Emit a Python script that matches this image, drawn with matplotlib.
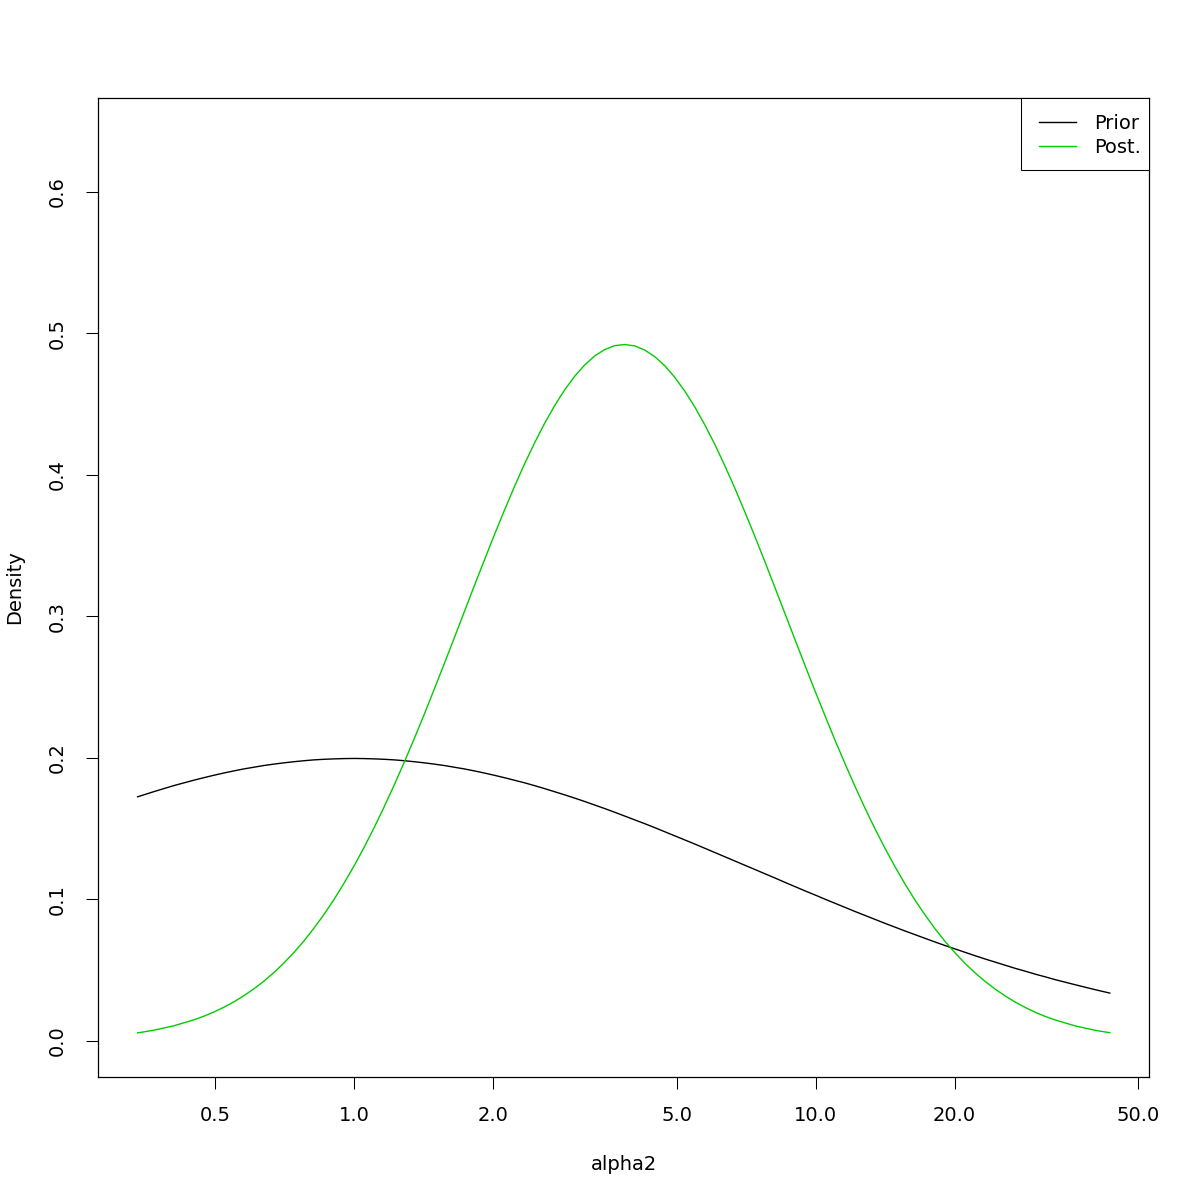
"""
Prior vs posterior density of alpha2 on a log x axis (R base-graphics look).
"""
import matplotlib
matplotlib.use("Agg")
import matplotlib.pyplot as plt
from matplotlib.patches import Rectangle
from matplotlib.ticker import FixedLocator, FixedFormatter, NullLocator

# values
alpha2 = [0.3396, 0.3679, 0.4066, 0.4493, 0.4724, 0.4966, 0.5220, 0.5488,
          0.5769, 0.6065, 0.6376, 0.6703, 0.7047, 0.7408, 0.7788, 0.8187,
          0.8607, 0.9048, 0.9512, 1.0, 1.0513, 1.1052, 1.1618, 1.2214,
          1.2840, 1.3499, 1.4191, 1.4918, 1.5683, 1.6487, 1.7333, 1.8221,
          1.9155, 2.0138, 2.1170, 2.2255, 2.3396, 2.4596, 2.5857, 2.7183,
          2.8577, 3.0042, 3.1582, 3.3201, 3.4903, 3.6693, 3.857, 4.0552,
          4.2631, 4.4817, 4.7115, 4.9530, 5.2070, 5.4739, 5.7546, 6.0496,
          6.3598, 6.6859, 7.0287, 7.3891, 7.7679, 8.1662, 8.5849, 9.0250,
          9.4877, 9.9742, 10.486, 11.023, 11.588, 12.182, 12.807, 13.464,
          14.154, 14.880, 15.643, 16.445, 17.288, 18.174, 19.106, 20.086,
          21.115, 22.198, 23.336, 24.533, 25.790, 27.113, 28.503, 29.964,
          31.500, 33.115, 36.598, 40.447, 43.376]

prior = [0.1724, 0.1760, 0.1803, 0.1841, 0.1859, 0.1876, 0.1892, 0.1907,
         0.1921, 0.1933, 0.1945, 0.1955, 0.1964, 0.1972, 0.1979, 0.1985,
         0.1989, 0.1992, 0.1994, 0.1995, 0.1994, 0.1992, 0.1989, 0.1985,
         0.1979, 0.1972, 0.1964, 0.1955, 0.1945, 0.1933, 0.1921, 0.1907,
         0.1892, 0.1876, 0.1859, 0.1841, 0.1823, 0.1803, 0.1782, 0.1760,
         0.1738, 0.1715, 0.1691, 0.1666, 0.1641, 0.1615, 0.1588, 0.1561,
         0.1534, 0.1506, 0.1477, 0.1448, 0.1419, 0.1390, 0.1360, 0.1330,
         0.1300, 0.1270, 0.1240, 0.1210, 0.1180, 0.1150, 0.1119, 0.1089,
         0.1059, 0.1030, 0.1000, 0.0971, 0.0942, 0.0913, 0.0885, 0.0857,
         0.0829, 0.0802, 0.0775, 0.0749, 0.0723, 0.0697, 0.0672, 0.0648,
         0.0624, 0.0600, 0.0577, 0.0555, 0.0533, 0.0511, 0.0491, 0.0470,
         0.0451, 0.0431, 0.0395, 0.0360, 0.0337]

post = [0.00556, 0.00744, 0.01055, 0.01476, 0.01733, 0.02028, 0.02366, 0.02747,
        0.03183, 0.03668, 0.04213, 0.0482, 0.0550, 0.0624, 0.0706, 0.0796,
        0.0893, 0.0999, 0.1114, 0.1236, 0.1367, 0.1506, 0.1653, 0.1807,
        0.1968, 0.2135, 0.2307, 0.2485, 0.2665, 0.2848, 0.3032, 0.3216,
        0.3397, 0.3576, 0.3749, 0.3916, 0.4075, 0.4224, 0.4362, 0.4487,
        0.4599, 0.4695, 0.4775, 0.4839, 0.4884, 0.4912, 0.4920, 0.4910,
        0.4881, 0.4834, 0.4770, 0.4688, 0.4590, 0.4478, 0.4351, 0.4213,
        0.4062, 0.3903, 0.3735, 0.3562, 0.3383, 0.3201, 0.3017, 0.2833,
        0.2650, 0.2470, 0.2294, 0.2121, 0.1955, 0.1794, 0.1640, 0.1494,
        0.1356, 0.1226, 0.1104, 0.0990, 0.0886, 0.0788, 0.0699, 0.0618,
        0.0544, 0.0477, 0.0417, 0.0363, 0.0315, 0.0272, 0.0234, 0.0200,
        0.0171, 0.0146, 0.0104, 0.00734, 0.00569]

x_ticks = [0.5, 1.0, 2.0, 5.0, 10.0, 20.0, 50.0]
x_tick_labels = ["0.5", "1.0", "2.0", "5.0", "10.0", "20.0", "50.0"]
y_ticks = [0.0, 0.1, 0.2, 0.3, 0.4, 0.5, 0.6]
y_tick_labels = ["0.0", "0.1", "0.2", "0.3", "0.4", "0.5", "0.6"]

plt.rcParams["font.family"] = "DejaVu Sans"

fig = plt.figure(figsize=(12, 12), dpi=100)
ax = fig.add_axes([98 / 1200, 123 / 1200, 1051 / 1200, 979 / 1200])

ax.plot(alpha2, prior, color="black", linewidth=1.0, label="Prior")
ax.plot(alpha2, post, color="#00cd00", linewidth=1.0, label="Post.")

ax.set_xscale("log")
ax.set_xlim(0.2787, 52.75)
ax.set_ylim(-0.0256, 0.6662)

ax.xaxis.set_major_locator(FixedLocator(x_ticks))
ax.xaxis.set_major_formatter(FixedFormatter(x_tick_labels))
ax.xaxis.set_minor_locator(NullLocator())
ax.yaxis.set_major_locator(FixedLocator(y_ticks))
ax.yaxis.set_major_formatter(FixedFormatter(y_tick_labels))

ax.tick_params(axis="both", direction="out", length=8.6, width=0.75,
               labelsize=14, pad=12)
ax.tick_params(axis="y", pad=14)
for lbl in ax.get_yticklabels():
    lbl.set_rotation(90)
    lbl.set_va("center")

for sp in ax.spines.values():
    sp.set_linewidth(0.9)

ax.set_xlabel("alpha2", fontsize=14, labelpad=22)
ax.set_ylabel("Density", fontsize=14, labelpad=17)

# R-style legend: frameless legend inside a box hugging the top right corner
ax.add_patch(Rectangle((0.8782, 0.9265), 0.1218, 0.0735, transform=ax.transAxes,
                       facecolor="white", edgecolor="black", linewidth=0.75,
                       clip_on=False, zorder=4))
leg = ax.legend(loc="upper left", bbox_to_anchor=(0.8953, 0.9837), fontsize=14,
                frameon=False, borderaxespad=0, borderpad=0,
                handlelength=1.9, handletextpad=0.95, labelspacing=0.25)
leg.set_zorder(5)

fig.savefig("out.png", dpi=100, facecolor="white")
plt.close(fig)
